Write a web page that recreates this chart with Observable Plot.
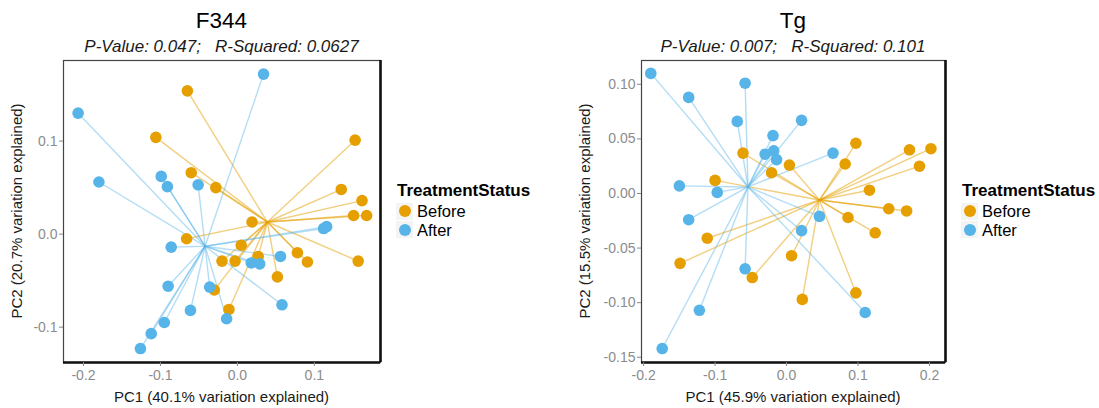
<!DOCTYPE html>
<html>
<head>
<meta charset="utf-8">
<script src="https://cdn.jsdelivr.net/npm/d3@7"></script>
<script src="https://cdn.jsdelivr.net/npm/@observablehq/plot@0.6"></script>
<style>
  html, body { margin: 0; padding: 0; background: #fff; }
  #chart { position: relative; width: 1099px; height: 408px; overflow: hidden; font-family: "Liberation Sans", Arial, Helvetica, sans-serif; }
  .abs { position: absolute; white-space: pre; }
  .svgwrap { position: absolute; top: 0; }
  .title { font-size: 22.5px; color: #000; text-align: center; }
  .subtitle { font-size: 17px; font-style: italic; color: #1a1a1a; text-align: center; }
  .axtitle { font-size: 15px; color: #1a1a1a; text-align: center; }
  .legtitle { font-size: 17px; font-weight: bold; color: #000; }
  .legitem { font-size: 16.5px; color: #000; }
  .legdot { position: absolute; width: 12px; height: 12px; border-radius: 50%; }
  .legkey { position: absolute; width: 17px; height: 17px; background: #f4f4f4; }
</style>
</head>
<body>
<div id="chart"></div>
<script>
// ---------------- data ----------------
const groups = ["Before", "After"];
const groupColors = ["#E69F00", "#56B4E9"];
const legendTitle = "TreatmentStatus";

const panelTitles = ["F344", "Tg"];
const panelSubtitles = ["P-Value: 0.047;   R-Squared: 0.0627", "P-Value: 0.007;   R-Squared: 0.101"];
const xTitles = ["PC1 (40.1% variation explained)", "PC1 (45.9% variation explained)"];
const yTitles = ["PC2 (20.7% variation explained)", "PC2 (15.5% variation explained)"];

const f344XTicks = [-0.2, -0.1, 0.0, 0.1];
const f344YTicks = [-0.1, 0.0, 0.1];
const tgXTicks = [-0.2, -0.1, 0.0, 0.1, 0.2];
const tgYTicks = [-0.15, -0.10, -0.05, 0.00, 0.05, 0.10];

const f344XDomain = [-0.226, 0.186];
const f344YDomain = [-0.138, 0.1866];
const tgXDomain = [-0.203, 0.2224];
const tgYDomain = [-0.1548, 0.1218];

const f344BeforePC1 = [-0.065,-0.106,0.153,-0.060,-0.028,0.135,0.162,0.151,0.168,0.019,-0.066,0.005,-0.020,-0.003,0.027,0.078,0.091,0.157,0.052,-0.030,-0.011];
const f344BeforePC2 = [0.154,0.104,0.101,0.066,0.050,0.048,0.036,0.020,0.020,0.013,-0.005,-0.012,-0.029,-0.029,-0.024,-0.020,-0.030,-0.029,-0.046,-0.060,-0.081];
const f344AfterPC1 = [0.034,-0.207,-0.180,-0.099,-0.091,-0.051,-0.086,0.116,0.112,0.056,0.018,0.029,-0.090,-0.036,0.058,-0.061,-0.014,-0.095,-0.112,-0.126];
const f344AfterPC2 = [0.172,0.130,0.056,0.062,0.051,0.053,-0.014,0.008,0.006,-0.024,-0.031,-0.032,-0.056,-0.057,-0.076,-0.082,-0.091,-0.095,-0.107,-0.123];
const f344CentroidPC1 = [0.039, -0.042];
const f344CentroidPC2 = [0.013, -0.013];

const tgBeforePC1 = [0.097,0.172,0.202,0.186,-0.061,0.082,0.004,-0.021,-0.100,0.116,0.143,0.168,0.086,0.124,-0.111,-0.149,0.007,-0.048,0.097,0.022];
const tgBeforePC2 = [0.046,0.040,0.041,0.025,0.037,0.027,0.026,0.019,0.012,0.003,-0.014,-0.016,-0.022,-0.036,-0.041,-0.064,-0.057,-0.077,-0.091,-0.097];
const tgAfterPC1 = [-0.190,-0.058,-0.137,-0.069,0.021,-0.019,-0.018,-0.030,-0.014,0.065,-0.150,-0.097,-0.137,0.046,0.021,-0.058,-0.122,0.110,-0.174];
const tgAfterPC2 = [0.110,0.101,0.088,0.066,0.067,0.053,0.039,0.036,0.031,0.037,0.007,0.001,-0.024,-0.021,-0.034,-0.069,-0.107,-0.109,-0.142];
const tgCentroidPC1 = [0.046, -0.054];
const tgCentroidPC2 = [-0.006, 0.006];

// ---------------- build ----------------
function rows(xs, ys, g, cx, cy) {
  return xs.map((x, i) => ({pc1: x, pc2: ys[i], group: g, cx, cy}));
}

const chart = document.getElementById("chart");

function addText(cls, text, left, top, width, lh, extra) {
  const d = document.createElement("div");
  d.className = "abs " + cls;
  d.textContent = text;
  d.style.left = left + "px";
  d.style.top = top + "px";
  if (width != null) d.style.width = width + "px";
  d.style.height = lh + "px";
  d.style.lineHeight = lh + "px";
  if (extra) Object.assign(d.style, extra);
  chart.appendChild(d);
  return d;
}

function panel(cfg) {
  const before = rows(cfg.bx, cfg.by, groups[0], cfg.cx[0], cfg.cy[0]);
  const after = rows(cfg.ax, cfg.ay, groups[1], cfg.cx[1], cfg.cy[1]);
  const fmt = cfg.fmt;
  const svg = Plot.plot({
    width: cfg.width,
    height: 408,
    marginLeft: cfg.marginLeft,
    marginRight: cfg.marginRight,
    marginTop: 60,
    marginBottom: 46,
    style: {fontFamily: '"Liberation Sans", Arial, sans-serif', fontSize: "14px", color: "#8c8c8c", background: "transparent", overflow: "visible"},
    x: {domain: cfg.xDomain, axis: null},
    y: {domain: cfg.yDomain, axis: null},
    marks: [
      Plot.link(before, {x1: "cx", y1: "cy", x2: "pc1", y2: "pc2", stroke: groupColors[0], strokeOpacity: 0.5, strokeWidth: 1.4}),
      Plot.link(after, {x1: "cx", y1: "cy", x2: "pc1", y2: "pc2", stroke: groupColors[1], strokeOpacity: 0.45, strokeWidth: 1.4}),
      Plot.dot(before, {x: "pc1", y: "pc2", r: 5.8, fill: groupColors[0], stroke: "none"}),
      Plot.dot(after, {x: "pc1", y: "pc2", r: 5.8, fill: groupColors[1], stroke: "none"}),
      Plot.frame({stroke: "#444", strokeWidth: 1.2}),
      Plot.ruleX([cfg.xDomain[1]], {stroke: "#111", strokeWidth: 2.6}),
      Plot.ruleY([cfg.yDomain[0]], {stroke: "#111", strokeWidth: 2.6}),
      Plot.axisX(cfg.xTicks, {anchor: "bottom", tickFormat: d => d.toFixed(1), tickSize: 4, tickPadding: 4, label: null, stroke: "#888", fill: "#8c8c8c", fontSize: 14}),
      Plot.axisY(cfg.yTicks, {anchor: "left", tickFormat: d => d.toFixed(fmt), tickSize: 4, tickPadding: 2, label: null, stroke: "#888", fill: "#8c8c8c", fontSize: 14})
    ]
  });
  const wrap = document.createElement("div");
  wrap.className = "svgwrap";
  wrap.style.left = cfg.left + "px";
  wrap.appendChild(svg);
  chart.appendChild(wrap);

  const fl = cfg.left + cfg.marginLeft;
  const fr = cfg.left + cfg.width - cfg.marginRight;
  const fw = fr - fl;
  addText("title", cfg.title, fl, 7, fw, 28);
  addText("subtitle", cfg.subtitle, fl, 37, fw, 20);
  addText("axtitle", cfg.xTitle, fl, 387, fw, 20);
  // y title rotated
  const yt = addText("axtitle", cfg.yTitle, 0, 0, 300, 20);
  yt.style.left = (cfg.yTitleX - 150) + "px";
  yt.style.top = (211 - 10) + "px";
  yt.style.transform = "rotate(-90deg)";
  yt.style.transformOrigin = "50% 50%";

  // legend
  const lx = fr + 17;
  addText("legtitle", legendTitle, lx, 180, null, 22);
  groups.forEach((g, i) => {
    const cyc = 211 + i * 18.5;
    const key = document.createElement("div");
    key.className = "legkey";
    key.style.left = (lx - 1) + "px";
    key.style.top = (cyc - 8.5) + "px";
    chart.appendChild(key);
    const dot = document.createElement("div");
    dot.className = "legdot";
    dot.style.background = groupColors[i];
    dot.style.left = (lx + 1.5) + "px";
    dot.style.top = (cyc - 6) + "px";
    chart.appendChild(dot);
    addText("legitem", g, lx + 20, cyc - 10, null, 20);
  });
}

panel({
  left: 0, width: 400, marginLeft: 63, marginRight: 20,
  xDomain: f344XDomain, yDomain: f344YDomain, xTicks: f344XTicks, yTicks: f344YTicks, fmt: 1,
  bx: f344BeforePC1, by: f344BeforePC2, ax: f344AfterPC1, ay: f344AfterPC2,
  cx: f344CentroidPC1, cy: f344CentroidPC2,
  title: panelTitles[0], subtitle: panelSubtitles[0], xTitle: xTitles[0], yTitle: yTitles[0], yTitleX: 17
});
panel({
  left: 560, width: 400, marginLeft: 81, marginRight: 15,
  xDomain: tgXDomain, yDomain: tgYDomain, xTicks: tgXTicks, yTicks: tgYTicks, fmt: 2,
  bx: tgBeforePC1, by: tgBeforePC2, ax: tgAfterPC1, ay: tgAfterPC2,
  cx: tgCentroidPC1, cy: tgCentroidPC2,
  title: panelTitles[1], subtitle: panelSubtitles[1], xTitle: xTitles[1], yTitle: yTitles[1], yTitleX: 585
});
</script>
</body>
</html>
